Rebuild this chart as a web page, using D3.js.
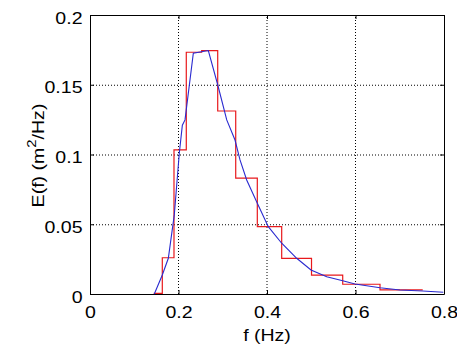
<!DOCTYPE html>
<html>
<head>
<meta charset="utf-8">
<script src="https://cdn.jsdelivr.net/npm/d3@7"></script>
<style>
  body { margin: 0; background: #fff; }
  svg text { font-family: "Liberation Sans", Arial, sans-serif; fill: #000; }
</style>
</head>
<body>
<div id="chart"></div>
<script>
const width = 457;
const height = 349;
const margin = {top: 15, right: 13, bottom: 55, left: 90};
const sx = 1.15; // the picture's text is a bit wider than plain Arial

// histogram bin edges (Hz) and bin energies
const binEdges = [0.1453, 0.1634, 0.1898, 0.2176, 0.2524, 0.2886, 0.3293,
                  0.3781, 0.4332, 0.5006, 0.5711, 0.6554, 0.7519];
const binValues = [0.0005, 0.026, 0.1033, 0.1733, 0.1745, 0.1312, 0.083,
                   0.0483, 0.0256, 0.0136, 0.007, 0.0029];

// continuous spectrum
const specFreq = [0.1453, 0.1634, 0.177, 0.1905, 0.2018, 0.2087, 0.2147, 0.2335, 0.2486,
                  0.2674, 0.2886, 0.309, 0.3277, 0.339, 0.3541, 0.3781, 0.4029, 0.4332,
                  0.4671, 0.4994, 0.535, 0.5711, 0.5989, 0.6554, 0.7006, 0.7519, 0.7985];
const specValue = [0, 0.0136, 0.0256, 0.0567, 0.1009, 0.121, 0.1248, 0.1726, 0.1735,
                   0.1745, 0.15, 0.1248, 0.1104, 0.0961, 0.0817, 0.065, 0.0483, 0.0364,
                   0.0256, 0.0172, 0.0124, 0.0095, 0.0072, 0.0045, 0.0029, 0.0022, 0.0012];

const xTicks = [0, 0.2, 0.4, 0.6, 0.8];
const yTicks = [0, 0.05, 0.1, 0.15, 0.2];

const x = d3.scaleLinear().domain([0, 0.8]).range([margin.left, width - margin.right]);
const y = d3.scaleLinear().domain([0, 0.2]).range([height - margin.bottom, margin.top]);

const svg = d3.select('#chart')
    .append('svg')
    .attr('width', width)
    .attr('height', height);

// dotted grid
svg.append('g')
    .selectAll('line')
    .data(xTicks.slice(1, -1))
    .enter().append('line')
    .attr('x1', d => x(d)).attr('x2', d => x(d))
    .attr('y1', y(0)).attr('y2', y(0.2))
    .attr('stroke', '#000')
    .attr('stroke-dasharray', '1,2');

svg.append('g')
    .selectAll('line')
    .data(yTicks.slice(1, -1))
    .enter().append('line')
    .attr('x1', x(0)).attr('x2', x(0.8))
    .attr('y1', d => y(d) + 0.5).attr('y2', d => y(d) + 0.5)
    .attr('stroke', '#000')
    .attr('stroke-dasharray', '1,2');

// axes with inward ticks
const fmt = d => d === 0 ? '0' : String(d);
const xAxis = svg.append('g')
    .attr('transform', `translate(0,${y(0)})`)
    .call(d3.axisBottom(x).tickValues(xTicks).tickFormat(fmt).tickSizeInner(-4).tickSizeOuter(0));
const yAxis = svg.append('g')
    .attr('transform', `translate(${x(0)},0)`)
    .call(d3.axisLeft(y).tickValues(yTicks).tickFormat(fmt).tickSizeInner(-4).tickSizeOuter(0));
svg.append('g')
    .attr('transform', `translate(0,${y(0.2)})`)
    .call(d3.axisTop(x).tickValues(xTicks).tickFormat('').tickSizeInner(-4).tickSizeOuter(0));
svg.append('g')
    .attr('transform', `translate(${x(0.8)},0)`)
    .call(d3.axisRight(y).tickValues(yTicks).tickFormat('').tickSizeInner(-4).tickSizeOuter(0));

svg.selectAll('.tick text')
    .attr('font-size', 17)
    .attr('font-family', '"Liberation Sans", Arial, sans-serif');
xAxis.selectAll('.tick text')
    .attr('y', 24.3).attr('dy', null)
    .attr('transform', `scale(${sx},1)`);
yAxis.selectAll('.tick text')
    .attr('x', -7.5 / sx).attr('y', 8).attr('dy', null)
    .attr('transform', `scale(${sx},1)`);
svg.selectAll('.domain').attr('stroke', '#000');

// histogram as step line
const stepPts = [];
binValues.forEach((v, i) => {
    stepPts.push([binEdges[i], v]);
    stepPts.push([binEdges[i + 1], v]);
});
stepPts.unshift([binEdges[0], 0]);

svg.append('path')
    .datum(stepPts)
    .attr('fill', 'none')
    .attr('stroke', '#e8191c')
    .attr('stroke-width', 1.2)
    .attr('d', d3.line().x(d => x(d[0])).y(d => y(d[1])));

// spectrum line
svg.append('path')
    .datum(specFreq.map((f, i) => [f, specValue[i]]))
    .attr('fill', 'none')
    .attr('stroke', '#2a2ad0')
    .attr('stroke-width', 1.1)
    .attr('d', d3.line().x(d => x(d[0])).y(d => y(d[1])));

// labels
svg.append('text')
    .attr('transform', `translate(${(x(0) + x(0.8)) / 2},341) scale(${sx},1)`)
    .attr('text-anchor', 'middle')
    .attr('font-size', 17)
    .text('f (Hz)');

const yl = svg.append('text')
    .attr('transform', `translate(43.5,155.5) rotate(-90) scale(${sx},1)`)
    .attr('text-anchor', 'middle')
    .attr('font-size', 17);
yl.append('tspan').text('E(f) (m');
yl.append('tspan').attr('font-size', 13).attr('dy', -8).text('2');
yl.append('tspan').attr('dy', 8).text('/Hz)');
</script>
</body>
</html>
